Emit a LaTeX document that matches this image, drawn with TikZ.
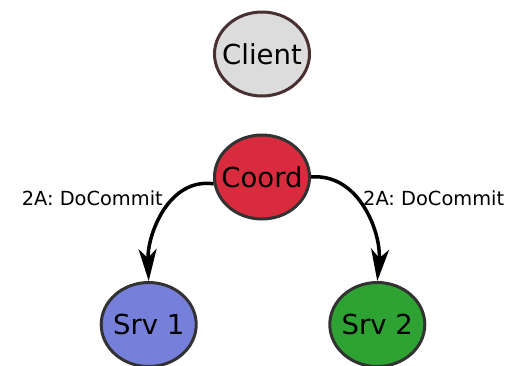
\documentclass[tikz,border=0pt]{standalone}
\usepackage{fontspec}
\setmainfont{DejaVu Sans}
\usetikzlibrary{positioning, shapes.geometric, arrows.meta}

\definecolor{clientfill}{RGB}{220,220,220}
\definecolor{clientline}{RGB}{72,48,48}
\definecolor{coordfill}{RGB}{217,43,62}
\definecolor{srvafill}{RGB}{118,128,218}
\definecolor{srvbfill}{RGB}{46,162,50}
\definecolor{nodeline}{RGB}{50,50,50}

\begin{document}
\begin{tikzpicture}[x=1pt, y=1pt,
  proc/.style={ellipse, draw=nodeline, line width=3pt, minimum width=95pt, minimum height=84pt, inner xsep=-12pt, inner ysep=0pt, font=\fontsize{27.5}{31}\selectfont},
  msg/.style={-{Stealth[length=32pt, width=18pt, inset=9pt]}, line width=3.5pt},
  lbl/.style={font=\fontsize{19.4}{22}\selectfont, inner sep=0pt}]
\useasboundingbox (0,0) rectangle (523,-365);
\node[proc, fill=clientfill, draw=clientline] (client) at (262,-54) {Client};
\node[proc, fill=coordfill, below=36pt of client] (coord) {Coord};
\node[proc, fill=srvafill, below left=86pt and 44pt of coord] (srv1) {Srv 1};
\node[proc, fill=srvbfill, below right=86pt and 46pt of coord] (srv2) {Srv 2};
\node[lbl, anchor=east] (lbl1) at ([xshift=-50pt, yshift=-21pt]coord.west) {2A: DoCommit};
\node[lbl, anchor=west] (lbl2) at ([xshift=52pt, yshift=-21pt]coord.east) {2A: DoCommit};
\draw[msg] (coord.188) to[out=172, in=92] (srv1.north);
\draw[msg] (coord.east) to[out=5, in=85] (srv2.north);
\end{tikzpicture}
\end{document}
